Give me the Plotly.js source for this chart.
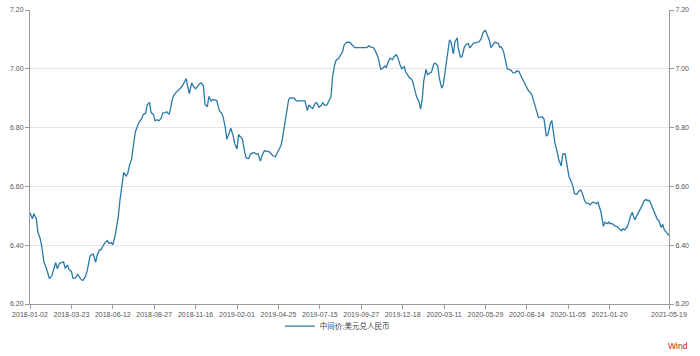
<!DOCTYPE html>
<html>
<head>
<meta charset="utf-8">
<script src="https://cdn.plot.ly/plotly-3.0.1.min.js"></script>
<style>
  html, body { margin: 0; padding: 0; background: #ffffff; }
  #chart { width: 700px; height: 356px; }
</style>
</head>
<body>
<div id="chart"></div>
<script>
// ---- data: USD/CNY central parity (中间价:美元兑人民币), sampled trading days ----
const dates2018 = ["2018-01-02","2018-01-05","2018-01-09","2018-01-12","2018-01-16","2018-01-19","2018-01-23","2018-01-26","2018-01-30","2018-02-02","2018-02-06","2018-02-09","2018-02-13","2018-02-14","2018-02-23","2018-02-27","2018-03-02","2018-03-06","2018-03-09","2018-03-13","2018-03-16","2018-03-20","2018-03-23","2018-03-27","2018-03-30","2018-04-03","2018-04-04","2018-04-10","2018-04-13","2018-04-17","2018-04-20","2018-04-24","2018-04-27","2018-05-02","2018-05-04","2018-05-08","2018-05-11","2018-05-15","2018-05-18","2018-05-22","2018-05-25","2018-05-29","2018-06-01","2018-06-05","2018-06-08","2018-06-12","2018-06-15","2018-06-19","2018-06-22","2018-06-26","2018-06-29","2018-07-03","2018-07-06","2018-07-10","2018-07-13","2018-07-17","2018-07-20","2018-07-24","2018-07-27","2018-07-31","2018-08-03","2018-08-07","2018-08-10","2018-08-14","2018-08-17","2018-08-21","2018-08-24","2018-08-28","2018-08-31","2018-09-04","2018-09-07","2018-09-11","2018-09-14","2018-09-18","2018-09-21","2018-09-25","2018-09-28","2018-10-09","2018-10-12","2018-10-16","2018-10-19","2018-10-23","2018-10-26","2018-10-30","2018-10-31","2018-11-02","2018-11-06","2018-11-09","2018-11-13","2018-11-16","2018-11-20","2018-11-23","2018-11-27","2018-11-30","2018-12-04","2018-12-07","2018-12-11","2018-12-14","2018-12-18","2018-12-21","2018-12-25","2018-12-28"];
const values2018 = [6.510,6.490,6.507,6.491,6.445,6.422,6.396,6.341,6.329,6.300,6.286,6.296,6.314,6.323,6.341,6.320,6.340,6.340,6.343,6.321,6.333,6.317,6.311,6.288,6.288,6.296,6.302,6.292,6.282,6.281,6.294,6.311,6.352,6.364,6.367,6.370,6.342,6.366,6.384,6.385,6.400,6.409,6.416,6.406,6.409,6.401,6.433,6.448,6.496,6.550,6.618,6.648,6.635,6.643,6.678,6.691,6.752,6.787,6.808,6.820,6.830,6.845,6.849,6.877,6.886,6.851,6.845,6.823,6.827,6.823,6.832,6.850,6.851,6.854,6.845,6.853,6.894,6.910,6.920,6.925,6.933,6.938,6.951,6.959,6.967,6.938,6.916,6.952,6.941,6.932,6.940,6.949,6.952,6.942,6.879,6.871,6.906,6.890,6.896,6.893,6.892,6.862];

const dates2019 = ["2019-01-02","2019-01-04","2019-01-08","2019-01-11","2019-01-15","2019-01-18","2019-01-22","2019-01-25","2019-01-29","2019-02-01","2019-02-12","2019-02-15","2019-02-19","2019-02-22","2019-02-26","2019-03-01","2019-03-05","2019-03-08","2019-03-12","2019-03-15","2019-03-19","2019-03-22","2019-03-26","2019-03-29","2019-04-02","2019-04-04","2019-04-09","2019-04-12","2019-04-16","2019-04-19","2019-04-23","2019-04-26","2019-04-30","2019-05-07","2019-05-10","2019-05-14","2019-05-17","2019-05-21","2019-05-24","2019-05-28","2019-05-31","2019-06-04","2019-06-06","2019-06-11","2019-06-14","2019-06-18","2019-06-21","2019-06-25","2019-06-28","2019-07-02","2019-07-05","2019-07-09","2019-07-12","2019-07-16","2019-07-19","2019-07-23","2019-07-26","2019-07-30","2019-08-02","2019-08-05","2019-08-06","2019-08-09","2019-08-13","2019-08-16","2019-08-20","2019-08-23","2019-08-27","2019-08-30","2019-09-03","2019-09-06","2019-09-10","2019-09-12","2019-09-17","2019-09-20","2019-09-24","2019-09-27","2019-09-30","2019-10-08","2019-10-11","2019-10-15","2019-10-18","2019-10-22","2019-10-25","2019-10-29","2019-11-01","2019-11-05","2019-11-08","2019-11-12","2019-11-15","2019-11-19","2019-11-22","2019-11-26","2019-11-29","2019-12-03","2019-12-06","2019-12-10","2019-12-13","2019-12-17","2019-12-20","2019-12-24","2019-12-27","2019-12-31"];
const values2019 = [6.855,6.850,6.839,6.800,6.760,6.782,6.798,6.773,6.746,6.727,6.777,6.767,6.760,6.713,6.696,6.695,6.709,6.714,6.715,6.709,6.711,6.686,6.705,6.721,6.720,6.717,6.718,6.710,6.704,6.701,6.712,6.731,6.737,6.760,6.805,6.844,6.894,6.901,6.899,6.900,6.891,6.891,6.891,6.891,6.891,6.891,6.858,6.877,6.868,6.865,6.883,6.885,6.869,6.873,6.885,6.876,6.877,6.887,6.903,6.923,6.967,7.014,7.030,7.035,7.045,7.057,7.080,7.089,7.091,7.089,7.082,7.076,7.072,7.072,7.072,7.072,7.072,7.072,7.072,7.072,7.078,7.074,7.073,7.066,7.050,7.035,6.998,7.000,7.009,7.005,7.027,7.036,7.031,7.041,7.048,7.038,7.011,7.000,7.007,6.989,6.977,6.969];

const dates2020 = ["2020-01-03","2020-01-07","2020-01-10","2020-01-14","2020-01-17","2020-01-21","2020-01-23","2020-02-04","2020-02-07","2020-02-11","2020-02-14","2020-02-18","2020-02-21","2020-02-25","2020-02-28","2020-03-03","2020-03-06","2020-03-10","2020-03-11","2020-03-13","2020-03-17","2020-03-20","2020-03-24","2020-03-27","2020-03-31","2020-04-03","2020-04-07","2020-04-10","2020-04-14","2020-04-17","2020-04-21","2020-04-24","2020-04-28","2020-04-30","2020-05-06","2020-05-08","2020-05-12","2020-05-15","2020-05-19","2020-05-22","2020-05-26","2020-05-29","2020-06-02","2020-06-05","2020-06-09","2020-06-12","2020-06-16","2020-06-19","2020-06-23","2020-06-24","2020-06-30","2020-07-03","2020-07-07","2020-07-10","2020-07-14","2020-07-17","2020-07-21","2020-07-24","2020-07-28","2020-07-31","2020-08-04","2020-08-07","2020-08-11","2020-08-14","2020-08-18","2020-08-21","2020-08-25","2020-08-28","2020-09-01","2020-09-04","2020-09-08","2020-09-11","2020-09-15","2020-09-18","2020-09-22","2020-09-25","2020-09-29","2020-09-30","2020-10-09","2020-10-13","2020-10-16","2020-10-20","2020-10-23","2020-10-27","2020-10-30","2020-11-03","2020-11-05","2020-11-06","2020-11-10","2020-11-13","2020-11-17","2020-11-20","2020-11-24","2020-11-27","2020-12-01","2020-12-04","2020-12-08","2020-12-11","2020-12-15","2020-12-18","2020-12-22","2020-12-25","2020-12-29","2020-12-31"];
const values2020 = [6.966,6.957,6.923,6.904,6.888,6.863,6.893,6.958,6.998,6.980,6.986,6.989,7.017,7.019,7.010,6.968,6.934,6.945,6.964,7.002,7.035,7.098,7.091,7.051,7.092,7.105,7.074,7.040,7.041,7.073,7.082,7.086,7.071,7.077,7.080,7.088,7.088,7.092,7.092,7.105,7.124,7.131,7.116,7.097,7.072,7.083,7.090,7.088,7.085,7.074,7.075,7.061,7.038,7.000,6.998,6.995,6.987,6.986,6.993,6.991,6.978,6.962,6.957,6.936,6.926,6.918,6.907,6.879,6.858,6.834,6.835,6.837,6.829,6.771,6.776,6.813,6.824,6.803,6.780,6.747,6.716,6.690,6.670,6.710,6.711,6.679,6.652,6.633,6.622,6.600,6.575,6.573,6.582,6.588,6.577,6.551,6.543,6.542,6.537,6.546,6.546,6.541,6.546,6.529];

const dates2021 = ["2021-01-05","2021-01-08","2021-01-12","2021-01-15","2021-01-19","2021-01-20","2021-01-22","2021-01-26","2021-01-29","2021-02-02","2021-02-05","2021-02-09","2021-02-10","2021-02-19","2021-02-23","2021-02-26","2021-03-02","2021-03-05","2021-03-09","2021-03-12","2021-03-16","2021-03-19","2021-03-23","2021-03-26","2021-03-30","2021-04-02","2021-04-06","2021-04-09","2021-04-13","2021-04-16","2021-04-20","2021-04-23","2021-04-27","2021-04-30","2021-05-07","2021-05-11","2021-05-14","2021-05-18","2021-05-19"];
const values2021 = [6.512,6.464,6.478,6.473,6.479,6.473,6.474,6.472,6.465,6.464,6.456,6.450,6.449,6.456,6.452,6.461,6.473,6.500,6.512,6.486,6.498,6.510,6.522,6.537,6.551,6.556,6.552,6.552,6.538,6.518,6.506,6.488,6.484,6.460,6.471,6.452,6.443,6.435,6.437];

const seriesName = "中间价:美元兑人民币";
const xTickLabels = ["2018-01-02","2018-03-23","2018-06-12","2018-08-27","2018-11-16","2019-02-01","2019-04-25","2019-07-15","2019-09-27","2019-12-18","2020-03-11","2020-05-29","2020-08-14","2020-11-05","2021-01-20","2021-05-19"];
const yTickValues = [6.2, 6.4, 6.6, 6.8, 7.0, 7.2];
// non-trading weekdays (China interbank market holidays) – trading-day axis like the source
const holidays = ["2018-01-01","2018-02-15","2018-02-16","2018-02-19","2018-02-20","2018-02-21","2018-04-05","2018-04-06","2018-04-30","2018-05-01","2018-06-18","2018-09-24","2018-10-01","2018-10-02","2018-10-03","2018-10-04","2018-10-05","2018-12-31",
"2019-01-01","2019-02-04","2019-02-05","2019-02-06","2019-02-07","2019-02-08","2019-04-05","2019-05-01","2019-05-02","2019-05-03","2019-06-07","2019-09-13","2019-10-01","2019-10-02","2019-10-03","2019-10-04","2019-10-07",
"2020-01-01","2020-01-24","2020-01-27","2020-01-28","2020-01-29","2020-01-30","2020-01-31","2020-04-06","2020-05-01","2020-05-04","2020-05-05","2020-06-25","2020-06-26","2020-10-01","2020-10-02","2020-10-05","2020-10-06","2020-10-07","2020-10-08",
"2021-01-01","2021-02-11","2021-02-12","2021-02-15","2021-02-16","2021-02-17","2021-04-05","2021-05-03","2021-05-04","2021-05-05"];

// ---- build ----
const dates = dates2018.concat(dates2019, dates2020, dates2021);
const values = values2018.concat(values2019, values2020, values2021);

const FONT = "Liberation Sans, Arial, 'Noto Sans CJK SC', sans-serif";
const LINE_COLOR = "#2a7aa8";
const AXIS_COLOR = "#9a9a9a";
const TICK_FONT = { family: FONT, size: 7, color: "#555555" };

const main = {
  x: dates, y: values, type: "scatter", mode: "lines",
  name: seriesName,
  line: { color: LINE_COLOR, width: 1.3 },
  hoverinfo: "skip"
};
const mirror = {
  x: dates, y: values, type: "scatter", mode: "lines",
  yaxis: "y2", showlegend: false, hoverinfo: "skip",
  line: { color: "rgba(0,0,0,0)", width: 0 }
};

const yCommon = {
  range: [6.2, 7.2],
  tickvals: yTickValues,
  tickformat: ".2f",
  ticks: "outside", ticklen: 4, tickcolor: AXIS_COLOR,
  showline: true, linecolor: AXIS_COLOR, linewidth: 1,
  zeroline: false,
  tickfont: TICK_FONT
};

const layout = {
  width: 700, height: 356,
  margin: { l: 30, r: 31, t: 10, b: 52 },
  paper_bgcolor: "#ffffff", plot_bgcolor: "#ffffff",
  font: { family: FONT, size: 7, color: "#555555" },
  showlegend: true,
  legend: {
    orientation: "h", x: 0.481, xanchor: "center", y: -0.075, yanchor: "middle",
    font: { family: FONT, size: 7.5, color: "#444444" }, bgcolor: "rgba(0,0,0,0)"
  },
  xaxis: {
    type: "date",
    range: [dates[0], dates[dates.length - 1]],
    rangebreaks: [{ bounds: ["sat", "mon"] }, { values: holidays }],
    tickvals: xTickLabels, ticktext: xTickLabels,
    tickangle: 0,
    ticks: "outside", ticklen: 4, tickcolor: AXIS_COLOR,
    showline: true, linecolor: AXIS_COLOR, linewidth: 1,
    showgrid: false, zeroline: false,
    tickfont: TICK_FONT
  },
  yaxis: Object.assign({}, yCommon, { side: "left", showgrid: true, gridcolor: "#e4e4e4", gridwidth: 1 }),
  yaxis2: Object.assign({}, yCommon, { side: "right", overlaying: "y", showgrid: false }),
  annotations: [{
    text: "Wind", xref: "paper", yref: "paper", x: 1.033, y: -0.143,
    xanchor: "right", yanchor: "middle", showarrow: false,
    font: { family: FONT, size: 8.5, color: "#d0121b" }
  }]
};

Plotly.newPlot("chart", [main, mirror], layout, { staticPlot: true, displayModeBar: false });
</script>
</body>
</html>
